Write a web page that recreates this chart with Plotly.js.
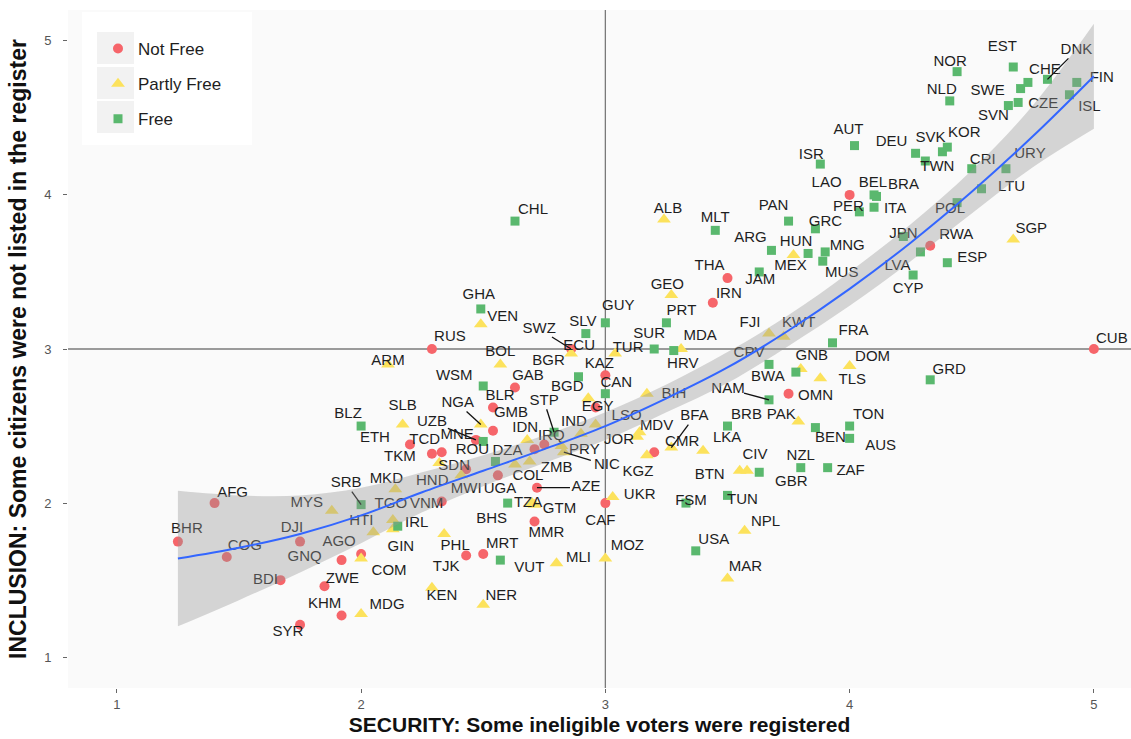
<!DOCTYPE html>
<html><head><meta charset="utf-8">
<script src="https://cdn.plot.ly/plotly-3.0.1.min.js"></script>
<style>body{margin:0;background:#fff}#chart{width:1131px;height:739px}</style>
</head><body><div id="chart"></div>
<script>
// ---- data ----
const notFreeCodes = ['AFG','BHR','COG','DJI','GNQ','AGO','BDI','ZWE','KHM','SYR','VNM','TJK','MRT','RUS','SWZ','KAZ','GAB','EGY','BLR','GMB','UZB','ETH','TCD','TKM','SDN','DZA','IRQ','UGA','AZE','MMR','CAF','CMR','IRN','THA','OMN','LAO','RWA','CUB'];
const notFreeX = [1.40,1.25,1.45,1.75,1.92,2.00,1.67,1.85,1.92,1.75,2.33,2.43,2.50,2.29,2.86,3.00,2.63,2.96,2.54,2.54,2.47,2.20,2.33,2.29,2.43,2.71,2.75,2.56,2.72,2.71,3.00,3.20,3.44,3.50,3.75,4.00,4.33,5.00];
const notFreeY = [2.00,1.75,1.65,1.75,1.63,1.67,1.50,1.46,1.27,1.21,2.01,1.66,1.67,3.00,3.00,2.83,2.75,2.62,2.62,2.47,2.41,2.38,2.33,2.32,2.22,2.35,2.38,2.18,2.10,1.88,2.00,2.33,3.30,3.46,2.71,4.00,3.67,3.00];

const partlyCodes = ['COM','MDG','MYS','MKD','HTI','GIN','TGO','PHL','KEN','NER','VEN','ECU','TUR','ARM','BOL','BGD','NGA','SLB','HND','MWI','COL','ZMB','IDN','PRY','NIC','TZA','GTM','MLI','MOZ','UKR','LSO','IND','JOR','MDV','KGZ','BFA','LKA','BIH','MDA','GEO','ALB','MEX','FJI','KWT','GNB','TLS','DOM','PAK','BTN','CIV','NPL','MAR','SGP'];
const partlyX = [2.00,2.00,1.88,2.14,2.05,2.13,2.13,2.34,2.29,2.50,2.49,2.86,3.04,2.11,2.57,2.93,2.49,2.17,2.32,2.41,2.63,2.69,2.68,2.82,2.83,2.70,2.71,2.80,3.00,3.03,2.96,2.90,3.13,3.14,3.17,3.27,3.40,3.17,3.31,3.27,3.24,3.77,3.67,3.73,3.80,3.88,4.00,3.79,3.55,3.58,3.57,3.50,4.67];
const partlyY = [1.64,1.28,1.95,2.09,1.81,1.83,1.89,1.80,1.45,1.34,3.16,2.97,2.97,2.90,2.90,2.68,2.51,2.51,2.26,2.18,2.25,2.27,2.41,2.37,2.33,2.00,1.99,1.61,1.64,2.04,2.51,2.45,2.43,2.46,2.31,2.36,2.34,2.71,3.00,3.35,3.84,3.61,3.10,3.08,2.87,2.81,2.89,2.53,2.21,2.21,1.82,1.51,3.71];

const freeCodes = ['SRB','IRL','GHA','SLV','GUY','BGR','WSM','CAN','MNE','BLZ','ROU','STP','BHS','VUT','CHL','PRT','SUR','HRV','JAM','MUS','CPV','BWA','NAM','FRA','BRB','BEN','TON','AUS','GBR','NZL','ZAF','FSM','TUN','USA','GRD','ESP','JPN','LVA','CYP','MLT','ARG','HUN','MNG','GRC','PAN','ISR','AUT','BEL','BRA','PER','ITA','DEU','SVK','KOR','TWN','CRI','URY','LTU','POL','NOR','NLD','EST','SWE','CHE','DNK','SVN','CZE','FIN','ISL'];
const freeX = [2.00,2.15,2.49,2.92,3.00,2.89,2.50,3.00,2.50,2.00,2.55,2.79,2.60,2.57,2.63,3.25,3.20,3.28,3.63,3.89,3.67,3.78,3.67,3.93,3.50,3.86,4.00,4.00,3.63,3.80,3.91,3.33,3.50,3.37,4.33,4.40,4.22,4.29,4.26,3.45,3.68,3.83,3.90,3.86,3.75,3.88,4.02,4.10,4.11,4.04,4.10,4.27,4.38,4.40,4.31,4.50,4.64,4.54,4.44,4.44,4.41,4.67,4.70,4.73,4.81,4.65,4.69,4.93,4.90];
const freeY = [1.99,1.85,3.26,3.10,3.17,2.82,2.76,2.71,2.40,2.50,2.27,2.46,2.00,1.63,3.83,3.17,3.00,2.99,3.50,3.57,2.90,2.85,2.67,3.04,2.50,2.49,2.50,2.42,2.20,2.23,2.23,2.00,2.05,1.69,2.80,3.56,3.73,3.63,3.48,3.77,3.64,3.62,3.63,3.78,3.83,4.20,4.32,4.00,3.99,3.89,3.92,4.27,4.28,4.31,4.22,4.17,4.17,4.04,3.95,4.80,4.61,4.83,4.69,4.73,4.75,4.58,4.60,4.73,4.65];

// smoothing curve and its confidence band
const smoothX    = [1.25,1.50,1.75,2.00,2.25,2.50,2.75,3.00,3.25,3.50,3.75,4.00,4.25,4.50,4.75,5.00];
const smoothFit  = [1.64,1.71,1.80,1.92,2.07,2.21,2.35,2.50,2.68,2.88,3.12,3.39,3.69,4.02,4.38,4.77];
const smoothLow  = [1.20,1.37,1.55,1.74,1.94,2.11,2.26,2.41,2.59,2.78,3.02,3.28,3.57,3.88,4.18,4.43];
const smoothHigh = [2.08,2.05,2.05,2.10,2.20,2.31,2.44,2.59,2.77,2.98,3.22,3.50,3.81,4.16,4.58,5.11];

const xTicks = [1,2,3,4,5];
const yTicks = [1,2,3,4,5];

// ---- label placement (pixel offsets from each point, style only) ----
const labelOffset = {
 AFG:[18,-10],BHR:[9,-12],COG:[18,-11],DJI:[-8,-13],GNQ:[-37,-3],AGO:[-22,-12],BDI:[-15,0],ZWE:[18,-7],KHM:[-17,-11],SYR:[-12,7],
 VNM:[-15,3],TJK:[-20,12],MRT:[19,-10],RUS:[18,-12],SWZ:[-32,-20],KAZ:[-6,-11],GAB:[13,-11],EGY:[2,0],BLR:[7,-11],GMB:[18,-17],
 UZB:[-44,-18],ETH:[-35,-6],TCD:[-17,-12],TKM:[-32,3],SDN:[-12,-3],DZA:[-27,2],IRQ:[7,-8],UGA:[2,14],AZE:[49,0],MMR:[12,12],
 CAF:[-5,18],CMR:[28,-10],IRN:[16,-9],THA:[-18,-12],OMN:[27,3],LAO:[-23,-12],RWA:[26,-11],CUB:[18,-10],
 COM:[28,13],MDG:[26,-9],MYS:[-25,-8],MKD:[-9,-10],HTI:[-12,-11],GIN:[8,18],TGO:[-2,-16],PHL:[11,12],KEN:[10,8],NER:[18,-9],
 VEN:[22,-7],ECU:[8,-7],TUR:[13,-5],ARM:[0,-3],BOL:[0,-12],BGD:[-21,-11],NGA:[-23,-21],SLB:[0,-18],HND:[-7,18],MWI:[5,14],
 COL:[13,12],ZMB:[27,7],IDN:[-2,-12],PRY:[23,4],NIC:[43,13],TZA:[-4,0],GTM:[25,5],MLI:[22,-5],MOZ:[22,-12],UKR:[27,-2],
 LSO:[31,-8],IND:[-7,-12],JOR:[-18,3],MDV:[17,-6],KGZ:[-9,17],BFA:[23,-31],LKA:[24,-12],BIH:[27,1],MDA:[19,-13],GEO:[-4,-10],
 ALB:[4,-10],MEX:[-3,11],FJI:[-19,-10],KWT:[15,-13],GNB:[11,-13],TLS:[32,2],DOM:[23,-9],PAK:[-17,-6],BTN:[-30,5],CIV:[8,-15],
 NPL:[21,-9],MAR:[18,-11],SGP:[18,-10],
 SRB:[-15,-21],IRL:[19,-3],GHA:[-2,-14],SLV:[-3,-11],GUY:[13,-17],BGR:[-30,-15],WSM:[-29,-10],CAN:[11,-10],MNE:[-26,-6],BLZ:[-13,-12],
 ROU:[-23,-11],STP:[-10,-31],BHS:[-16,16],VUT:[29,8],CHL:[18,-11],PRT:[15,-12],SUR:[-5,-15],HRV:[9,14],JAM:[1,8],MUS:[19,12],
 CPV:[-20,-11],BWA:[-28,5],NAM:[-41,-11],FRA:[21,-12],BRB:[19,-11],BEN:[15,11],TON:[19,-11],AUS:[31,8],GBR:[32,10],NZL:[0,-11],
 ZAF:[23,4],FSM:[5,-2],TUN:[15,5],USA:[18,-11],GRD:[19,-10],ESP:[25,-4],JPN:[0,-2],LVA:[-23,14],CYP:[-5,14],MLT:[0,-12],
 ARG:[-21,-12],HUN:[-12,-11],MNG:[22,-6],GRC:[10,-7],PAN:[-15,-15],ISR:[-9,-9],AUT:[-6,-15],BEL:[-1,-12],BRA:[27,-11],PER:[-11,-5],
 ITA:[21,2],DEU:[-24,-11],SVK:[-12,-14],KOR:[17,-14],TWN:[12,6],CRI:[11,-8],URY:[24,-14],LTU:[30,-2],POL:[-7,7],NOR:[-7,-9],
 NLD:[-8,-11],EST:[-11,-20],SWE:[-33,3],CHE:[17,-12],DNK:[29,-29],SVN:[-15,11],CZE:[25,2],FIN:[25,-4],ISL:[20,12]
};
const withSegment = ['SWZ','UZB','AZE','NGA','NIC','BFA','SRB','STP','NAM','DNK'];

// ---- geometry ----
const W = 1131, H = 739;
const M = {l:68, r:0, t:10, b:51};
const xr = [0.8, 5.152], yr = [0.8, 5.2];
const pxPerX = (W - M.l - M.r) / (xr[1] - xr[0]);
const pxPerY = (H - M.t - M.b) / (yr[1] - yr[0]);
const pw = W - M.l - M.r, ph = H - M.t - M.b;
const paperX = px => (px - M.l) / pw;
const paperY = py => (H - M.b - py) / ph;

const FONT = 'Liberation Sans, Arial, Helvetica, sans-serif';
const colNF = '#F6656A', colPF = '#FCE25C', colF = '#5AB86E';

const groups = [
  {name:'Not Free', codes:notFreeCodes, x:notFreeX, y:notFreeY, color:colNF, symbol:'circle', size:10},
  {name:'Partly Free', codes:partlyCodes, x:partlyX, y:partlyY, color:colPF, symbol:'triangle-up', size:12},
  {name:'Free', codes:freeCodes, x:freeX, y:freeY, color:colF, symbol:'square', size:9}
];

const traces = [];
groups.forEach((g, i) => {
  traces.push({
    type:'scatter', mode:'markers', name:g.name, x:g.x, y:g.y, text:g.codes,
    legendgroup:'g'+i,
    marker:{color:g.color, symbol:g.symbol, size:g.size, line:{width:0}},
    hovertemplate:'%{text}<br>%{x}, %{y}<extra></extra>'
  });
});

// labels and leader segments
const lx = [], ly = [], lt = [], sx = [], sy = [];
groups.forEach(g => {
  g.codes.forEach((c, i) => {
    const off = labelOffset[c] || [12, -10];
    const px = g.x[i], py = g.y[i];
    lx.push(px + off[0] / pxPerX);
    ly.push(py - off[1] / pxPerY);
    lt.push(c);
    if (withSegment.includes(c)) {
      const hw = 16, hh = 8;
      const ax = Math.abs(off[0]) || 1e-6, ay = Math.abs(off[1]) || 1e-6;
      const t = Math.min(hw / ax, hh / ay, 1);
      const ex = off[0] * (1 - t), ey = off[1] * (1 - t);
      sx.push(px, px + ex / pxPerX, null);
      sy.push(py, py - ey / pxPerY, null);
    }
  });
});

traces.push({type:'scatter', mode:'lines', x:sx, y:sy, line:{color:'#111', width:1.3},
  showlegend:false, hoverinfo:'skip'});
traces.push({type:'scatter', mode:'text', x:lx, y:ly, text:lt, textposition:'middle center',
  textfont:{family:FONT, size:15, color:'#1e1e1e'}, showlegend:false, hoverinfo:'skip'});

// confidence band (drawn over points/labels like the reference)
traces.push({type:'scatter', mode:'lines', x:smoothX, y:smoothHigh,
  line:{width:0, shape:'spline', color:'rgba(0,0,0,0)'}, showlegend:false, hoverinfo:'skip'});
traces.push({type:'scatter', mode:'lines', x:smoothX, y:smoothLow,
  fill:'tonexty', fillcolor:'rgba(150,150,150,0.38)',
  line:{width:0, shape:'spline', color:'rgba(0,0,0,0)'}, showlegend:false, hoverinfo:'skip'});
traces.push({type:'scatter', mode:'lines', x:smoothX, y:smoothFit,
  line:{color:'#3366FF', width:2, shape:'spline'}, showlegend:false, hoverinfo:'skip'});

// legend box and key backgrounds (ggplot style)
const legendShapes = [
  {type:'rect', xref:'paper', yref:'paper', x0:paperX(82), x1:paperX(252), y0:paperY(145), y1:paperY(12),
   fillcolor:'#ffffff', line:{width:0}, layer:'below'},
  {type:'rect', xref:'paper', yref:'paper', x0:paperX(97), x1:paperX(134), y0:paperY(64), y1:paperY(32),
   fillcolor:'#F2F2F2', line:{width:0}, layer:'below'},
  {type:'rect', xref:'paper', yref:'paper', x0:paperX(97), x1:paperX(134), y0:paperY(99), y1:paperY(67),
   fillcolor:'#F2F2F2', line:{width:0}, layer:'below'},
  {type:'rect', xref:'paper', yref:'paper', x0:paperX(97), x1:paperX(134), y0:paperY(133), y1:paperY(101),
   fillcolor:'#F2F2F2', line:{width:0}, layer:'below'}
];

const layout = {
  width:W, height:H, margin:M,
  paper_bgcolor:'#ffffff', plot_bgcolor:'#FAFAFA',
  font:{family:FONT, color:'#1e1e1e'},
  showlegend:true,
  legend:{x:paperX(98), y:paperY(31), xanchor:'left', yanchor:'top', bgcolor:'rgba(0,0,0,0)',
    font:{size:17, family:FONT, color:'#1e1e1e'}, traceorder:'grouped', tracegroupgap:10,
    borderwidth:0, itemwidth:30},
  xaxis:{range:xr, tickvals:xTicks, ticktext:xTicks.map(String), showgrid:false, zeroline:false,
    showline:false, ticks:'outside', ticklen:4, tickcolor:'#666', tickwidth:1,
    tickfont:{size:13, color:'#555', family:FONT},
    title:{text:'<b>SECURITY: Some ineligible voters were registered</b>', font:{size:21, color:'#111', family:FONT}, standoff:6}},
  yaxis:{range:yr, tickvals:yTicks, ticktext:yTicks.map(String), showgrid:false, zeroline:false,
    showline:false, ticks:'outside', ticklen:4, tickcolor:'#666', tickwidth:1, ticklabelstandoff:9,
    tickfont:{size:13, color:'#555', family:FONT},
    title:{text:'<b>INCLUSION: Some citizens were not listed in the register</b>', font:{size:23, color:'#111', family:FONT}, standoff:11}},
  shapes:[
    {type:'line', xref:'x', yref:'paper', x0:3, x1:3, y0:0, y1:1, line:{color:'#7a7a7a', width:1.3}, layer:'below'},
    {type:'line', xref:'paper', yref:'y', x0:0, x1:1, y0:3, y1:3, line:{color:'#7a7a7a', width:1.3}, layer:'below'}
  ].concat(legendShapes)
};

Plotly.newPlot('chart', traces, layout, {displayModeBar:false, staticPlot:true});
</script></body></html>
